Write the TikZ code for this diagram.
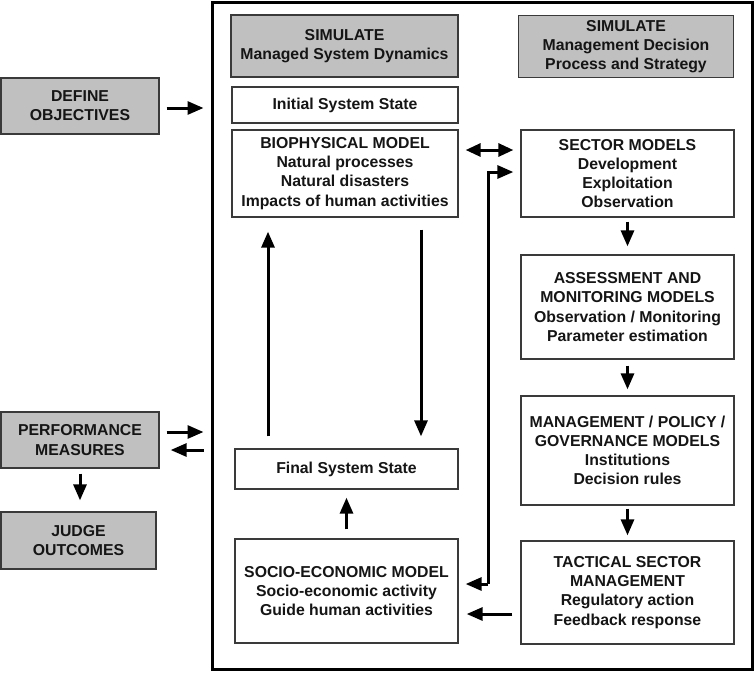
\documentclass[tikz,border=0pt]{standalone}
\usepackage{fontspec}
\setmainfont{Liberation Sans}
\usetikzlibrary{arrows.meta,calc}
\definecolor{boxgray}{HTML}{C0C0C0}
\definecolor{edgegray}{HTML}{3A3A3A}
\definecolor{txt}{HTML}{151515}
\tikzset{
  box/.style={draw=edgegray, line width=1.3pt, fill=white, align=center, inner sep=0pt,
    font=\bfseries\fontsize{15.8}{19.2}\selectfont, text=txt},
  gbox/.style={box, fill=boxgray},
  arr/.style={line width=3pt, -{Triangle[length=16pt,width=13pt]}},
  darr/.style={line width=3pt, {Triangle[length=15pt,width=13pt]}-{Triangle[length=15pt,width=13pt]}},
}
\begin{document}
\begin{tikzpicture}[x=1pt,y=-1pt]
\useasboundingbox (0,0) rectangle (755,673);
\node[draw=black, line width=3pt, minimum width=540pt, minimum height=667pt, inner sep=0pt] (frame) at (482,335.5) {};
\node[gbox, minimum width=158pt, minimum height=56pt] (defobj) at (80,106) {DEFINE\\OBJECTIVES};
\node[gbox, minimum width=158pt, minimum height=56pt] (perf) at (80,440) {PERFORMANCE\\MEASURES};
\node[gbox, minimum width=155pt, minimum height=57pt] (judge) at (78.5,540.5) {JUDGE\\OUTCOMES};
\node[gbox, minimum width=227pt, minimum height=62pt] (sim1) at (344.5,46) {SIMULATE\\Managed System Dynamics};
\node[gbox, minimum width=215pt, minimum height=62pt] (sim2) at (626,46.5) {SIMULATE\\Management Decision\\Process and Strategy};
\node[box, minimum width=226pt, minimum height=36pt] (init) at (345,105) {Initial System State};
\node[box, minimum width=226pt, minimum height=87pt] (bio) at (345,173.5) {BIOPHYSICAL MODEL\\Natural processes\\Natural disasters\\Impacts of human activities};
\node[box, minimum width=213pt, minimum height=87pt] (sector) at (627.5,173.5) {SECTOR MODELS\\Development\\Exploitation\\Observation};
\node[box, minimum width=213pt, minimum height=104pt] (assess) at (627.5,307) {ASSESSMENT AND\\MONITORING MODELS\\Observation / Monitoring\\Parameter estimation};
\node[box, minimum width=213pt, minimum height=109pt] (mgmt) at (627.5,450.5) {MANAGEMENT / POLICY /\\GOVERNANCE MODELS\\Institutions\\Decision rules};
\node[box, minimum width=213pt, minimum height=103pt] (tact) at (627.5,592.5) {TACTICAL SECTOR\\MANAGEMENT\\Regulatory action\\Feedback response};
\node[box, minimum width=223pt, minimum height=40pt] (final) at (346.5,469) {Final System State};
\node[box, minimum width=223pt, minimum height=104pt] (socio) at (346.5,591) {SOCIO-ECONOMIC MODEL\\Socio-economic activity\\Guide human activities};
% arrows
\draw[arr, shorten <=7pt, shorten >=7pt] (defobj.east |- 0,108) -- (frame.west |- 0,108);
\draw[arr, shorten <=7pt, shorten >=7pt] (perf.east |- 0,432) -- (frame.west |- 0,432);
\draw[arr, shorten <=7pt, shorten >=11pt] (frame.west |- 0,450) -- (perf.east |- 0,450);
\draw[arr, shorten <=5pt, shorten >=11pt] (perf.south) -- (perf.south |- judge.north);
\draw[darr, shorten <=7pt, shorten >=7pt] (bio.east |- 0,150) -- (sector.west |- 0,150);
\coordinate (lb) at (488,584);
\draw[arr, shorten >=7pt] (lb) -- (lb |- 0,172) -- (sector.west |- 0,172);
\draw[arr, shorten >=7pt] (lb) -- (socio.east |- lb);
\draw[arr, shorten <=12pt, shorten >=14pt] (final.north -| 268,0) -- (bio.south -| 268,0);
\draw[arr, shorten <=12pt, shorten >=12pt] (bio.south -| 421,0) -- (final.north -| 421,0);
\draw[arr, shorten <=9pt, shorten >=8pt] (socio.north) -- (final.south);
\draw[arr, shorten <=4pt, shorten >=8pt] (sector.south) -- (assess.north);
\draw[arr, shorten <=6pt, shorten >=6pt] (assess.south) -- (mgmt.north);
\draw[arr, shorten <=3pt, shorten >=5pt] (mgmt.south) -- (tact.north);
\draw[arr, shorten <=8pt, shorten >=8pt] (tact.west |- 0,614) -- (socio.east |- 0,614);
\end{tikzpicture}
\end{document}
